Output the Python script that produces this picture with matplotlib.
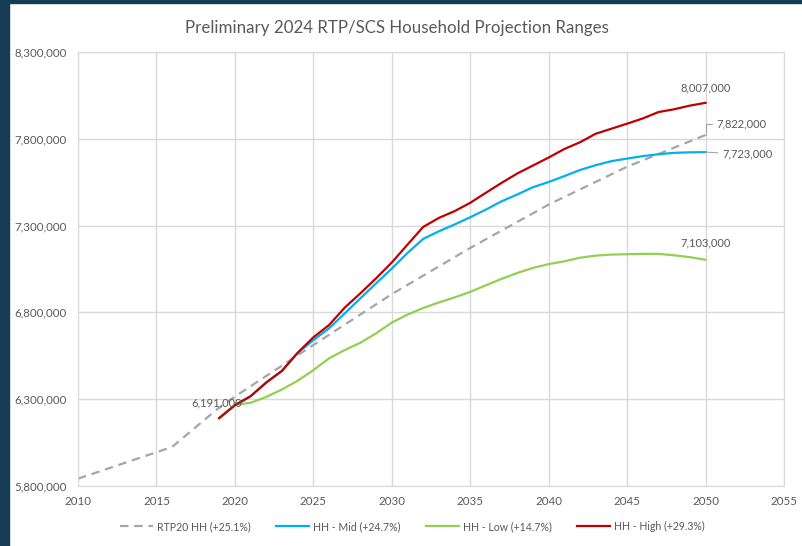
import matplotlib
matplotlib.use('Agg')
import matplotlib.pyplot as plt
from matplotlib.patches import Rectangle
from matplotlib.ticker import FuncFormatter

plt.rcParams['font.family'] = ['Lato', 'DejaVu Sans']

# RTP20 household forecast (dashed)
rtp20_years = [2010, 2016, 2019, 2020, 2025, 2030, 2035, 2040, 2045, 2050]
rtp20_hh = [5842000, 6025000, 6252000, 6315000, 6612000, 6905000,
            7171000, 7421000, 7639000, 7822000]

# preliminary 2024 ranges, annual
years = list(range(2019, 2051))
hh_mid = [6191000, 6265000, 6317000, 6396000, 6463000, 6567000, 6640000,
          6708000, 6794000, 6881000, 6967000, 7052000, 7142000, 7223000,
          7267000, 7306000, 7348000, 7392000, 7440000, 7479000, 7521000,
          7551000, 7585000, 7620000, 7648000, 7671000, 7686000, 7700000,
          7711000, 7719000, 7722000, 7723000]
hh_low = [6191000, 6268000, 6279000, 6313000, 6356000, 6406000, 6467000,
          6535000, 6583000, 6625000, 6679000, 6741000, 6787000, 6825000,
          6857000, 6886000, 6918000, 6956000, 6993000, 7027000, 7056000,
          7078000, 7094000, 7115000, 7127000, 7133000, 7135000, 7137000,
          7137000, 7129000, 7118000, 7103000]
hh_high = [6191000, 6265000, 6317000, 6396000, 6463000, 6567000, 6656000,
           6727000, 6827000, 6910000, 6996000, 7087000, 7190000, 7292000,
           7344000, 7383000, 7431000, 7489000, 7546000, 7600000, 7646000,
           7692000, 7741000, 7780000, 7829000, 7858000, 7887000, 7917000,
           7954000, 7970000, 7991000, 8007000]

labels = ['RTP20 HH (+25.1%)', 'HH - Mid (+24.7%)', 'HH - Low (+14.7%)',
          'HH - High (+29.3%)']

txt = '#595959'
grid = '#d9d9d9'

fig = plt.figure(figsize=(8.03, 5.46), dpi=100)
# dark slide border on the left and top
fig.patches.append(Rectangle((0, 0), 9 / 803, 1, transform=fig.transFigure,
                             color='#163b54', zorder=0))
fig.patches.append(Rectangle((0, 1 - 3 / 546), 1, 3 / 546,
                             transform=fig.transFigure, color='#163b54', zorder=0))

ax = fig.add_axes([0.0971, 0.1099, 0.8792, 0.7949])

ax.plot(rtp20_years, rtp20_hh, color='#a6a6a6', lw=1.6, dashes=(3.8, 2.6),
        label=labels[0])
ax.plot(years, hh_mid, color='#00b0f0', lw=1.6, label=labels[1])
ax.plot(years, hh_low, color='#92d050', lw=1.6, label=labels[2])
ax.plot(years, hh_high, color='#c00000', lw=1.6, label=labels[3])

ax.set_xlim(2010, 2055)
ax.set_ylim(5800000, 8300000)
ax.set_xticks(range(2010, 2056, 5))
ax.set_yticks(range(5800000, 8300001, 500000))
ax.yaxis.set_major_formatter(FuncFormatter(lambda v, p: f'{int(v):,}'))
ax.grid(True, color=grid, lw=1)
ax.set_axisbelow(True)
for s in ax.spines.values():
    s.set_color(grid)
ax.tick_params(length=0, labelsize=8.3, labelcolor=txt)
ax.tick_params(axis='y', pad=8)
ax.tick_params(axis='x', pad=7)

# data labels
fs = 8
ax.annotate(f'{hh_high[0]:,}', (years[0], hh_high[0]), xytext=(-2, 11),
            textcoords='offset points', ha='center', va='center',
            fontsize=fs, color=txt)
ax.annotate(f'{hh_high[-1]:,}', (years[-1], hh_high[-1]), xytext=(0, 11),
            textcoords='offset points', ha='center', va='center',
            fontsize=fs, color=txt)
ax.annotate(f'{hh_low[-1]:,}', (years[-1], hh_low[-1]), xytext=(0, 12),
            textcoords='offset points', ha='center', va='center',
            fontsize=fs, color=txt)
ax.annotate(f'{rtp20_hh[-1]:,}', (rtp20_years[-1], rtp20_hh[-1]),
            xytext=(8, 8), textcoords='offset points', ha='left',
            va='center', fontsize=fs, color=txt,
            arrowprops=dict(arrowstyle='-', color='#a6a6a6', lw=0.8,
                            shrinkA=1, shrinkB=0,
                            connectionstyle='angle,angleA=0,angleB=90,rad=0'))
ax.annotate(f'{hh_mid[-1]:,}', (years[-1], hh_mid[-1]), xytext=(12, -1.5),
            textcoords='offset points', ha='left', va='center',
            fontsize=fs, color=txt,
            arrowprops=dict(arrowstyle='-', color='#a6a6a6', lw=0.8,
                            shrinkA=1, shrinkB=0))

fig.text(0.494, 0.948, 'Preliminary 2024 RTP/SCS Household Projection Ranges',
         ha='center', va='center', fontsize=12.2, color=txt)

fig.legend(loc='center', bbox_to_anchor=(0.514, 0.036), ncol=4, frameon=False,
           fontsize=7.6, labelcolor=txt, handlelength=3.1, handletextpad=0.4,
           columnspacing=2.4)

fig.savefig('out.png', dpi=100)
